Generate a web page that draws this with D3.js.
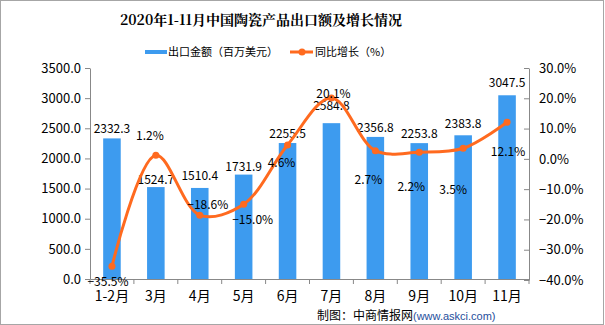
<!DOCTYPE html>
<html><head><meta charset="utf-8">
<script src="https://cdn.jsdelivr.net/npm/d3@7"></script>
<style>
html,body{margin:0;padding:0;background:#fff;}
svg{display:block;}
text{font-family:"Noto Sans CJK SC","DejaVu Sans",sans-serif;}
</style></head>
<body><svg id="c" width="605" height="325"></svg>
<script>
const categories = ["1-2月","3月","4月","5月","6月","7月","8月","9月","10月","11月"];
const exportValues = [2332.3,1524.7,1510.4,1731.9,2255.5,2584.8,2356.8,2253.8,2383.8,3047.5];
const growthValues = [-35.5,1.2,-18.6,-15.0,4.6,20.1,2.7,2.2,3.5,12.1];
const leftTicks = [0,500,1000,1500,2000,2500,3000,3500];
const rightTicks = [-40,-30,-20,-10,0,10,20,30];
// label placement offsets [dx, dy] relative to the mark
const growthLabelPos = [[-4,19.5],[-6,-15.5],[8,-6.5],[9,19.5],[-6,22.5],[2,0],[-7,33],[-8,38.5],[-10,46],[1,33.5]];
const barLabelDy = [-5.5,-3.5,-7.5,-4,-5,-13.5,-4.5,-5,-7,-8.5];

const svg = d3.select("#c");
const W=605,H=325;
const m={l:90,r:529,t:68,b:279};
const barColor="#3d9bef", lineColor="#ff6a1f";

svg.append("rect").attr("x",0.5).attr("y",0.5).attr("width",W-2).attr("height",H-1)
  .attr("fill","#fff").attr("stroke","#a6a6a6");

const x=d3.scaleBand().domain(categories).range([m.l,m.r]).paddingInner(0.6).paddingOuter(0.3);
const xb=d3.scaleBand().domain(categories).range([m.l,m.r]);
const yL=d3.scaleLinear().domain([0,3500]).range([m.b,m.t]);
const yR=d3.scaleLinear().domain([-40,30]).range([m.b+1,m.t]);

// title
svg.append("text").attr("x",261).attr("y",25).attr("text-anchor","middle")
  .attr("font-size",14).attr("font-weight","bold").attr("fill","#000")
  .style("font-family","'Noto Serif CJK SC','Noto Sans CJK SC',serif")
  .text("2020年1-11月中国陶瓷产品出口额及增长情况");

// legend
svg.append("rect").attr("x",145).attr("y",50).attr("width",22).attr("height",4).attr("fill",barColor);
svg.append("text").attr("x",168).attr("y",56).attr("font-size",11).text("出口金额（百万美元）");
svg.append("line").attr("x1",290).attr("x2",313).attr("y1",52).attr("y2",52).attr("stroke",lineColor).attr("stroke-width",3);
svg.append("circle").attr("cx",302).attr("cy",52).attr("r",3.5).attr("fill",lineColor);
svg.append("text").attr("x",315).attr("y",56).attr("font-size",11).text("同比增长（%）");

// left axis
const axL=svg.append("g").attr("transform",`translate(${m.l},0)`)
  .call(d3.axisLeft(yL).tickValues(leftTicks).tickFormat(d=>d3.format(".1f")(d)).tickSize(5).tickSizeOuter(0));
axL.select(".domain").attr("stroke","#888");
axL.selectAll(".tick line").attr("stroke","#888");
axL.selectAll(".tick text").attr("font-size",13).attr("fill","#000").attr("x",-9);

// right axis
const axR=svg.append("g").attr("transform",`translate(${m.r},0)`)
  .call(d3.axisRight(yR).tickValues(rightTicks).tickFormat(d=>d3.format(".1f")(d)+"%").tickSize(5).tickSizeOuter(0));
axR.select(".domain").attr("stroke","#888");
axR.selectAll(".tick line").attr("stroke","#888").attr("x2",-5);
axR.selectAll(".tick text").attr("font-size",13).attr("fill","#000").attr("x",10);

// bars
svg.append("g").selectAll("rect").data(exportValues).join("rect")
  .attr("x",(d,i)=>x(categories[i])).attr("width",x.bandwidth())
  .attr("y",d=>yL(d)).attr("height",d=>yL(0)-yL(d)).attr("fill",barColor);

// bottom axis
const axB=svg.append("g").attr("transform",`translate(0,${m.b})`)
  .call(d3.axisBottom(xb).tickSize(0).tickSizeOuter(0));
axB.select(".domain").attr("stroke","#888");
axB.selectAll(".tick text").attr("font-size",14).attr("fill","#000").attr("dy","1.35em");
const bounds=categories.map(c=>xb(c)).concat([m.r]);
svg.append("g").selectAll("line").data(bounds).join("line")
  .attr("x1",d=>d).attr("x2",d=>d).attr("y1",m.b).attr("y2",m.b+5).attr("stroke","#888");

// bar labels
svg.append("g").selectAll("text").data(exportValues).join("text")
  .attr("x",(d,i)=>xb(categories[i])+xb.bandwidth()/2).attr("y",(d,i)=>yL(d)+barLabelDy[i])
  .attr("text-anchor","middle").attr("font-size",12).attr("fill","#000")
  .text(d=>d3.format(".1f")(d));

// line
const cx=(i)=>xb(categories[i])+xb.bandwidth()/2;
const line=d3.line().x((d,i)=>cx(i)).y(d=>yR(d)).curve(d3.curveCatmullRom.alpha(0.5));
svg.append("path").datum(growthValues).attr("d",line).attr("fill","none")
  .attr("stroke",lineColor).attr("stroke-width",3);
svg.append("g").selectAll("circle").data(growthValues).join("circle")
  .attr("cx",(d,i)=>cx(i)).attr("cy",d=>yR(d)).attr("r",3.5).attr("fill",lineColor);
svg.append("g").selectAll("text").data(growthValues).join("text")
  .attr("x",(d,i)=>cx(i)+growthLabelPos[i][0]).attr("y",(d,i)=>yR(d)+growthLabelPos[i][1])
  .attr("text-anchor","middle").attr("font-size",12).attr("fill","#000")
  .text(d=>d3.format(".1f")(d)+"%");

// footer
const ft=svg.append("text").attr("x",317).attr("y",320).attr("font-size",12);
ft.append("tspan").attr("fill","#000").text("制图：中商情报网");
ft.append("tspan").attr("fill","#1f4e9c").attr("font-size",11).style("font-family","'Liberation Sans',Arial,sans-serif").text("(www.askci.com)");
</script></body></html>
